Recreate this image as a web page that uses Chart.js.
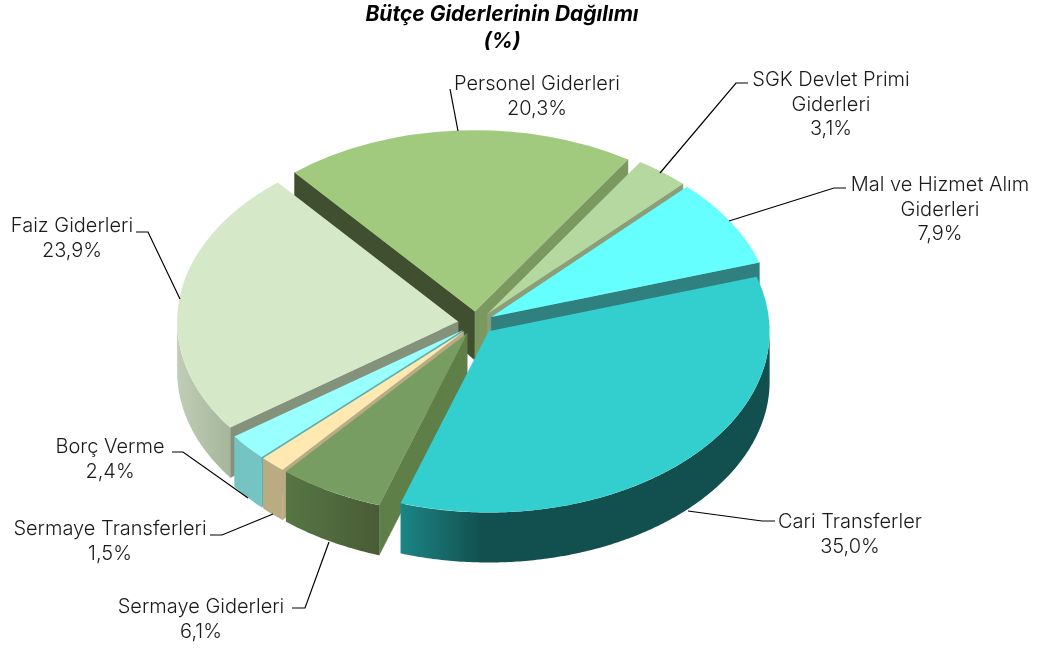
<!DOCTYPE html>
<html><head><meta charset="utf-8">
<style>html,body{margin:0;padding:0;background:#fff}#w{width:1043px;height:648px}</style>
<script src="https://cdn.jsdelivr.net/npm/chart.js@4"></script></head>
<body><div id="w"><canvas id="c" width="1043" height="648"></canvas></div>
<script>
const titleLines = ['Bütçe Giderlerinin Dağılımı', '(%)'];
const categories = [['SGK Devlet Primi','Giderleri'],['Mal ve Hizmet Alım','Giderleri'],['Cari Transferler'],['Sermaye Giderleri'],['Sermaye Transferleri'],['Borç Verme'],['Faiz Giderleri'],['Personel Giderleri']];
const values = [3.1, 7.9, 35.0, 6.1, 1.5, 2.4, 23.9, 20.3];
const topColors = ['#B5D7A0','#66FFFF','#33CFCF','#779D62','#FFE9B0','#99FFFF','#D5E9C9','#A2CA7F'];

// 3D look: [start wall, end wall, rim left, rim right]
const sideColors = [
  ['#7f956c','#8A9E78','#8A9E78','#8A9E78'],
  ['#318080','#318080','#318080','#318080'],
  ['#125050','#125050','#1C8585','#125050'],
  ['#5F7F48','#4a5c36','#567644','#4a5c36'],
  ['#BBAB82','#BBAB82','#BBAB82','#BBAB82'],
  ['#5fb0b0','#74C4C4','#74C4C4','#74C4C4'],
  ['#84917B','#9aaa8e','#C0CDB6','#A5B69B'],
  ['#404F2F','#7A9860','#7A9860','#7A9860']
];
const paintOrder = [7,0,1,6,5,4,3,2];
const view = {cx:476, cy:323, k:0.645, explode:18, rotation:33, radius:281};
const depthAt = y => Math.min(50, Math.max(28, 28 + (y-172)*0.15));

const labelPlacement = [
  {x:831,y:80,leader:[[748,83],[736,83],[660,173]]},
  {x:940,y:185,leader:[[846,188],[834,188],[729,221]]},
  {x:850,y:522,leader:[[775,521],[762,521],[688,511]]},
  {x:201,y:607,leader:[[292,608],[305,608],[329,542]]},
  {x:110,y:529,leader:[[210,535],[222,535],[273,514]]},
  {x:110,y:447,leader:[[172,452],[183,452],[248,498]]},
  {x:72,y:226,leader:[[136,232],[148,232],[180,299]]},
  {x:537,y:84,leader:[[450,89],[458,131]]}
];
const lineGap = 24.5;
const labelFont = '300 20px "Inter"';
const inkColor = '#1a1a1a';

const slice3d = {
  id:'slice3d',
  beforeDatasetDraw(chart){
    const ctx = chart.ctx, arcs = chart.getDatasetMeta(0).data;
    paintOrder.forEach(i=>{
      const arc = arcs[i], c = sideColors[i];
      const mid = (arc.startAngle+arc.endAngle)/2;
      const ox = view.cx + view.explode*Math.cos(mid);
      const oy = view.cy + view.explode*Math.sin(mid)*view.k;
      const P = (a,r)=>[ox+r*Math.cos(a), oy+r*Math.sin(a)*view.k];
      const down = p=>[p[0], p[1]+depthAt(p[1])];
      const R = arc.outerRadius;
      const wall = (a,col)=>{
        const t0=P(a,0), t1=P(a,R), b1=down(t1), b0=down(t0);
        ctx.fillStyle=col; ctx.strokeStyle=col; ctx.lineWidth=0.5; ctx.beginPath();
        ctx.moveTo(...t0);ctx.lineTo(...t1);ctx.lineTo(...b1);ctx.lineTo(...b0);ctx.closePath();ctx.fill();ctx.stroke();
      };
      // a cut face shows only when it turns towards the viewer
      if(Math.cos(arc.startAngle)<0) wall(arc.startAngle,c[0]);
      if(Math.cos(arc.endAngle)>0) wall(arc.endAngle,c[1]);
      // outer rim: only where the edge faces the viewer
      const spans=[];
      let s=arc.startAngle,e=arc.endAngle;
      for(let n=-1;n<=1;n++){
        const lo=Math.max(s,n*2*Math.PI), hi=Math.min(e,n*2*Math.PI+Math.PI);
        if(hi>lo) spans.push([lo,hi]);
      }
      spans.forEach(([lo,hi])=>{
        const pts=[];const steps=Math.max(2,Math.ceil((hi-lo)/0.01));
        for(let j=0;j<=steps;j++) pts.push(P(lo+(hi-lo)*j/steps,R));
        const xs=pts.map(p=>p[0]);
        const x0=Math.min(...xs), x1=Math.max(...xs);
        const g=ctx.createLinearGradient(x0,0,Math.max(x1,x0+1),0);
        g.addColorStop(0,c[2]);
        g.addColorStop(i===2?0.22:1,c[3]);
        g.addColorStop(1,c[3]);
        ctx.fillStyle=g; ctx.beginPath();
        pts.forEach((p,j)=> j?ctx.lineTo(...p):ctx.moveTo(...p));
        pts.slice().reverse().forEach(p=>ctx.lineTo(...down(p)));
        ctx.closePath(); ctx.fill();
      });
      // top face: the library's own arc, tilted
      ctx.save();
      ctx.translate(ox,oy); ctx.scale(1,view.k); ctx.translate(-arc.x,-arc.y);
      arc.draw(ctx);
      ctx.restore();
    });
    return false;
  },
  afterDraw(chart){
    const ctx=chart.ctx;
    ctx.save();
    ctx.font=labelFont; ctx.fillStyle=inkColor; ctx.strokeStyle='#000'; ctx.lineWidth=1.2;
    ctx.textAlign='center'; ctx.textBaseline='middle';
    categories.forEach((cat,i)=>{
      const p=labelPlacement[i];
      [...cat, values[i].toFixed(1).replace('.',',')+'%'].forEach((t,j)=>ctx.fillText(t,p.x,p.y+j*lineGap));
      ctx.beginPath();
      p.leader.forEach((q,j)=> j?ctx.lineTo(q[0],q[1]):ctx.moveTo(q[0],q[1]));
      ctx.stroke();
    });
    ctx.restore();
  }
};

new Chart(document.getElementById('c'),{
  type:'pie',
  data:{labels:categories,datasets:[{data:values,backgroundColor:topColors,borderWidth:0}]},
  options:{
    responsive:false,animation:false,
    rotation:view.rotation,
    radius:view.radius,
    layout:{padding:{left:0,right:39,top:0,bottom:0}},
    plugins:{
      legend:{display:false},tooltip:{enabled:false},
      title:{display:true,text:titleLines,color:'#000',
        font:{family:'Inter',size:21,style:'italic',weight:'bold',lineHeight:1.25},padding:{top:2,bottom:0}}
    }
  },
  plugins:[slice3d]
});
</script></body></html>
